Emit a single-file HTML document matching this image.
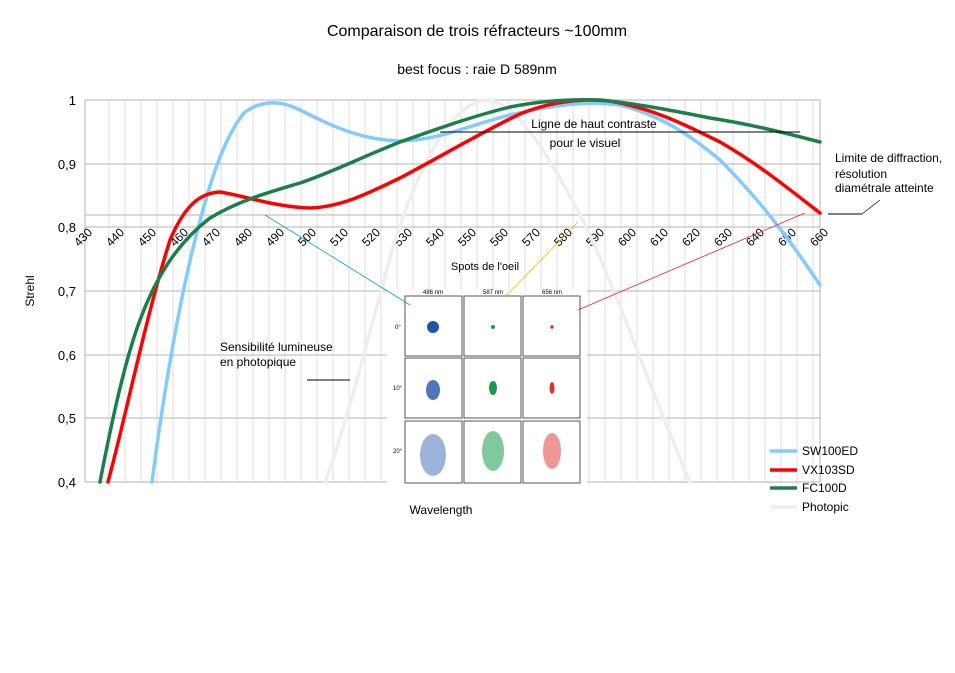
<!DOCTYPE html>
<html><head><meta charset="utf-8"><style>
body{margin:0;background:#fff;width:955px;height:668px;overflow:hidden;font-family:"Liberation Sans",sans-serif}
</style></head><body>
<svg width="955" height="668" viewBox="0 0 955 668" xmlns="http://www.w3.org/2000/svg" font-family="Liberation Sans, sans-serif">
<rect width="955" height="668" fill="#fff"/>
<text x="477" y="36" font-size="16" text-anchor="middle">Comparaison de trois réfracteurs ~100mm</text>
<text x="477" y="74" font-size="14" text-anchor="middle">best focus : raie D 589nm</text>
<g stroke="#dedede" stroke-width="1">
<line x1="109" y1="100" x2="109" y2="482"/><line x1="125" y1="100" x2="125" y2="482"/><line x1="141" y1="100" x2="141" y2="482"/><line x1="157" y1="100" x2="157" y2="482"/><line x1="173" y1="100" x2="173" y2="482"/><line x1="189" y1="100" x2="189" y2="482"/><line x1="205" y1="100" x2="205" y2="482"/><line x1="221" y1="100" x2="221" y2="482"/><line x1="237" y1="100" x2="237" y2="482"/><line x1="253" y1="100" x2="253" y2="482"/><line x1="269" y1="100" x2="269" y2="482"/><line x1="285" y1="100" x2="285" y2="482"/><line x1="301" y1="100" x2="301" y2="482"/><line x1="317" y1="100" x2="317" y2="482"/><line x1="333" y1="100" x2="333" y2="482"/><line x1="349" y1="100" x2="349" y2="482"/><line x1="365" y1="100" x2="365" y2="482"/><line x1="381" y1="100" x2="381" y2="482"/><line x1="397" y1="100" x2="397" y2="482"/><line x1="413" y1="100" x2="413" y2="482"/><line x1="429" y1="100" x2="429" y2="482"/><line x1="445" y1="100" x2="445" y2="482"/><line x1="461" y1="100" x2="461" y2="482"/><line x1="477" y1="100" x2="477" y2="482"/><line x1="493" y1="100" x2="493" y2="482"/><line x1="509" y1="100" x2="509" y2="482"/><line x1="525" y1="100" x2="525" y2="482"/><line x1="541" y1="100" x2="541" y2="482"/><line x1="557" y1="100" x2="557" y2="482"/><line x1="573" y1="100" x2="573" y2="482"/><line x1="589" y1="100" x2="589" y2="482"/><line x1="605" y1="100" x2="605" y2="482"/><line x1="621" y1="100" x2="621" y2="482"/><line x1="637" y1="100" x2="637" y2="482"/><line x1="653" y1="100" x2="653" y2="482"/><line x1="669" y1="100" x2="669" y2="482"/><line x1="685" y1="100" x2="685" y2="482"/><line x1="701" y1="100" x2="701" y2="482"/><line x1="717" y1="100" x2="717" y2="482"/><line x1="733" y1="100" x2="733" y2="482"/><line x1="749" y1="100" x2="749" y2="482"/><line x1="765" y1="100" x2="765" y2="482"/><line x1="781" y1="100" x2="781" y2="482"/><line x1="797" y1="100" x2="797" y2="482"/><line x1="813" y1="100" x2="813" y2="482"/>
</g>
<g stroke="#b3b3b3" stroke-width="1">
<line x1="85" y1="100" x2="820" y2="100"/><line x1="85" y1="164" x2="820" y2="164"/><line x1="85" y1="227" x2="820" y2="227"/><line x1="85" y1="291" x2="820" y2="291"/><line x1="85" y1="355" x2="820" y2="355"/><line x1="85" y1="418" x2="820" y2="418"/><line x1="85" y1="482" x2="820" y2="482"/>
<line x1="85" y1="100" x2="85" y2="482"/><line x1="820" y1="100" x2="820" y2="482"/>
<line x1="85" y1="215" x2="820" y2="215"/>
</g>
<g font-size="13" text-anchor="end">
<text x="76" y="105">1</text><text x="76" y="169">0,9</text><text x="76" y="232">0,8</text><text x="76" y="296">0,7</text><text x="76" y="360">0,6</text><text x="76" y="423">0,5</text><text x="76" y="487">0,4</text>
</g>
<g font-size="12" text-anchor="end">
<text transform="translate(93,233) rotate(-45)">430</text><text transform="translate(125,233) rotate(-45)">440</text><text transform="translate(157,233) rotate(-45)">450</text><text transform="translate(189,233) rotate(-45)">460</text><text transform="translate(221,233) rotate(-45)">470</text><text transform="translate(253,233) rotate(-45)">480</text><text transform="translate(285,233) rotate(-45)">490</text><text transform="translate(317,233) rotate(-45)">500</text><text transform="translate(349,233) rotate(-45)">510</text><text transform="translate(381,233) rotate(-45)">520</text><text transform="translate(413,233) rotate(-45)">530</text><text transform="translate(445,233) rotate(-45)">540</text><text transform="translate(477,233) rotate(-45)">550</text><text transform="translate(509,233) rotate(-45)">560</text><text transform="translate(541,233) rotate(-45)">570</text><text transform="translate(573,233) rotate(-45)">580</text><text transform="translate(605,233) rotate(-45)">590</text><text transform="translate(637,233) rotate(-45)">600</text><text transform="translate(669,233) rotate(-45)">610</text><text transform="translate(701,233) rotate(-45)">620</text><text transform="translate(733,233) rotate(-45)">630</text><text transform="translate(765,233) rotate(-45)">640</text><text transform="translate(797,233) rotate(-45)">650</text><text transform="translate(829,233) rotate(-45)">660</text>
</g>
<text transform="translate(34,291) rotate(-90)" font-size="12" text-anchor="middle">Strehl</text>
<text x="441" y="514" font-size="12" text-anchor="middle">Wavelength</text>
<g fill="none" stroke-width="3.5" stroke-linejoin="round" stroke-linecap="round">
<path stroke="#eeeeee" d="M325,482 C345,430 370,330 395,240 C420,165 450,105 485,100 C515,100 545,150 575,205 C610,270 650,390 690,482"/>
<path stroke="#83caff" d="M152,482 C160,420 175,320 195,240 C210,180 225,135 245,112 C262,100 280,100 300,110 C330,125 360,140 400,141 C440,140 470,125 510,115 C550,106 585,100 620,105 C660,115 690,135 720,160 C760,200 790,240 820,285"/>
<path stroke="#ff0000" d="M108,482 C125,420 145,320 170,240 C185,205 200,193 220,192 C245,196 275,207 310,208 C340,207 365,195 400,178 C440,157 480,133 520,114 C550,102 580,98 610,101 C650,108 680,122 720,142 C760,165 790,190 820,213"/>
<path stroke="#1a7f4b" d="M100,482 C112,420 125,360 140,320 C155,280 175,245 210,218 C240,200 270,192 300,183 C330,173 360,158 400,142 C440,128 470,117 510,107 C540,101 570,99 600,100 C640,104 680,112 710,118 C750,124 790,134 820,142"/>
</g>
<line x1="440" y1="132" x2="800" y2="132" stroke="#000" stroke-width="1"/>
<text x="594" y="128" font-size="12" text-anchor="middle">Ligne de haut contraste</text>
<text x="585" y="147" font-size="12" text-anchor="middle">pour le visuel</text>
<line x1="828" y1="214" x2="862" y2="214" stroke="#000"/><line x1="862" y1="214" x2="880" y2="200" stroke="#000" stroke-width="0.7"/>
<text x="835" y="162" font-size="12">Limite de diffraction,</text>
<text x="835" y="178" font-size="12">résolution</text>
<text x="835" y="192" font-size="12">diamétrale atteinte</text>
<text x="220" y="351" font-size="12">Sensibilité lumineuse</text>
<text x="220" y="366" font-size="12">en photopique</text>
<line x1="307" y1="380" x2="350" y2="380" stroke="#000"/>
<text x="485" y="270" font-size="11" text-anchor="middle">Spots de l'oeil</text>
<rect x="387" y="290" width="200" height="194" fill="#fff"/>
<g stroke="#555" fill="none" stroke-width="1">
<rect x="405" y="296" width="57" height="60"/><rect x="464" y="296" width="57" height="60"/><rect x="523" y="296" width="57" height="60"/>
<rect x="405" y="358" width="57" height="60"/><rect x="464" y="358" width="57" height="60"/><rect x="523" y="358" width="57" height="60"/>
<rect x="405" y="421" width="57" height="62"/><rect x="464" y="421" width="57" height="62"/><rect x="523" y="421" width="57" height="62"/>
</g>
<g font-size="6" text-anchor="middle"><text x="433" y="294">486 nm</text><text x="493" y="294">587 nm</text><text x="552" y="294">656 nm</text></g>
<g font-size="6"><text x="395" y="329">0°</text><text x="393" y="390">10°</text><text x="393" y="453">20°</text></g>
<circle cx="433" cy="327" r="6" fill="#2255aa"/><circle cx="493" cy="327" r="2" fill="#1a9a4a"/><circle cx="552" cy="327" r="1.8" fill="#e03030"/>
<ellipse cx="433" cy="390" rx="7" ry="10" fill="#2255aa" opacity="0.8"/><ellipse cx="493" cy="388" rx="4" ry="7" fill="#1a9a4a"/><ellipse cx="552" cy="388" rx="2.5" ry="6" fill="#e03030"/>
<ellipse cx="433" cy="455" rx="13" ry="21" fill="#2255aa" opacity="0.45"/><ellipse cx="493" cy="451" rx="11" ry="20" fill="#1a9a4a" opacity="0.55"/><ellipse cx="552" cy="451" rx="9" ry="18" fill="#e03030" opacity="0.5"/>
<line x1="265" y1="215" x2="410" y2="305" stroke="#1199dd" stroke-width="0.8"/>
<line x1="578" y1="222" x2="505" y2="297" stroke="#f5b800" stroke-width="0.8"/>
<line x1="805" y1="213" x2="578" y2="310" stroke="#ee2222" stroke-width="0.8"/>
<g stroke-width="3.5">
<line x1="770" y1="451" x2="797" y2="451" stroke="#83caff"/><line x1="770" y1="470" x2="797" y2="470" stroke="#ff0000"/><line x1="770" y1="488" x2="797" y2="488" stroke="#1a7f4b"/><line x1="770" y1="507" x2="797" y2="507" stroke="#eeeeee"/>
</g>
<g font-size="12"><text x="802" y="455">SW100ED</text><text x="802" y="474">VX103SD</text><text x="802" y="492">FC100D</text><text x="802" y="511">Photopic</text></g>
</svg>
</body></html>
